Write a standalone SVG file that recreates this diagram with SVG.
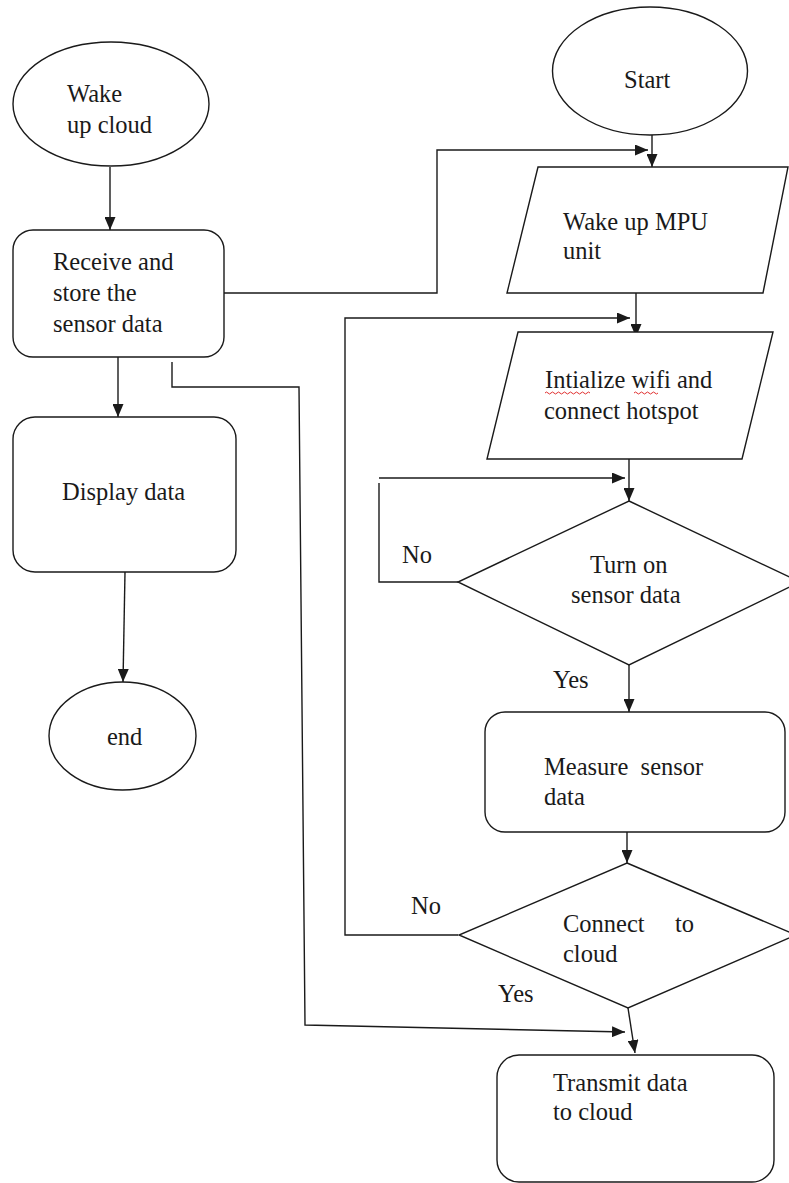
<svg xmlns="http://www.w3.org/2000/svg" width="789" height="1183" viewBox="0 0 789 1183">
<style>
.s{fill:#fff;stroke:#1a1a1a;stroke-width:1.4}
.c{fill:none;stroke:#1a1a1a;stroke-width:1.4}
text{font-family:'Liberation Serif','Times New Roman',serif;font-size:24.5px;fill:#1a1a1a}
.sp{fill:none;stroke:#e03030;stroke-width:1}
</style>
<defs>
<marker id="ah" viewBox="0 0 13 11" refX="13" refY="5.5" markerWidth="13" markerHeight="11" markerUnits="userSpaceOnUse" orient="auto">
<path d="M0,0 L13,5.5 L0,11 Z" fill="#1a1a1a"/>
</marker>
</defs>
<rect width="789" height="1183" fill="#fff"/>
<g id="connectors">
<path class="c" d="M110,167 V230" marker-end="url(#ah)"/>
<path class="c" d="M118,357 V417" marker-end="url(#ah)"/>
<path class="c" d="M125,572 L123,682" marker-end="url(#ah)"/>
<path class="c" d="M224,293 H437 V150 H648" marker-end="url(#ah)"/>
<path class="c" d="M652,135 V167" marker-end="url(#ah)"/>
<path class="c" d="M636,293 V337" marker-end="url(#ah)"/>
<path class="c" d="M458,935 H345 V318 H630" marker-end="url(#ah)"/>
<path class="c" d="M629,453 V501" marker-end="url(#ah)"/>
<path class="c" d="M458,582 H379 V483"/>
<path class="c" d="M379,478 H625" marker-end="url(#ah)"/>
<path class="c" d="M629,665 V712" marker-end="url(#ah)"/>
<path class="c" d="M627,832 V863" marker-end="url(#ah)"/>
<path class="c" d="M628,1008 L635,1053" marker-end="url(#ah)"/>
<path class="c" d="M172,362 V387 H299 L305,1025 L625,1032" marker-end="url(#ah)"/>
</g>
<g id="wake-cloud">
<ellipse class="s" cx="111" cy="104" rx="98" ry="62"/>
<text x="67" y="102">Wake</text>
<text x="67" y="133">up cloud</text>
</g>
<g id="receive">
<rect class="s" x="13" y="230" width="211" height="127" rx="20"/>
<text x="53" y="270">Receive and</text>
<text x="53" y="301">store the</text>
<text x="53" y="332">sensor data</text>
</g>
<g id="display">
<rect class="s" x="13" y="417" width="223" height="155" rx="22"/>
<text x="62" y="500">Display data</text>
</g>
<g id="end">
<ellipse class="s" cx="122.5" cy="736" rx="73.5" ry="54"/>
<text x="107" y="745">end</text>
</g>
<g id="start">
<ellipse class="s" cx="650" cy="71" rx="97.5" ry="64"/>
<text x="624" y="88">Start</text>
</g>
<g id="wake-mpu">
<polygon class="s" points="538,167 788,167 763,293 507,293"/>
<text x="563" y="230">Wake up MPU</text>
<text x="563" y="259">unit</text>
</g>
<g id="init-wifi">
<polygon class="s" points="518,332 773,332 742,459 487,459"/>
<text x="545" y="388">Intialize wifi and</text>
<text x="544" y="419">connect hotspot</text>
<path class="sp" d="M545,393 q1.5,-2 3,0 t3,0 t3,0 t3,0 t3,0 t3,0 t3,0 t3,0 t3,0 t3,0 t3,0 t3,0 t3,0 t3,0 t3,0"/>
<path class="sp" d="M634,393 q1.5,-2 3,0 t3,0 t3,0 t3,0 t3,0 t3,0 t3,0 t3,0"/>
</g>
<g id="turn-on">
<polygon class="s" points="629,501 800,582 629,665 458,582"/>
<text x="590" y="573">Turn on</text>
<text x="571" y="603">sensor data</text>
<text x="402" y="563">No</text>
<text x="553" y="688">Yes</text>
</g>
<g id="measure">
<rect class="s" x="485" y="712" width="300" height="120" rx="20"/>
<text x="544" y="775" xml:space="preserve">Measure  sensor</text>
<text x="544" y="805">data</text>
</g>
<g id="connect-cloud">
<polygon class="s" points="627,863 796,935 628,1008 459,935"/>
<text x="563" y="932">Connect</text>
<text x="675" y="932">to</text>
<text x="563" y="962">cloud</text>
<text x="411" y="914">No</text>
<text x="498" y="1002">Yes</text>
</g>
<g id="transmit">
<rect class="s" x="497" y="1055" width="277" height="127" rx="22"/>
<text x="553" y="1091">Transmit data</text>
<text x="553" y="1120">to cloud</text>
</g>
</svg>
